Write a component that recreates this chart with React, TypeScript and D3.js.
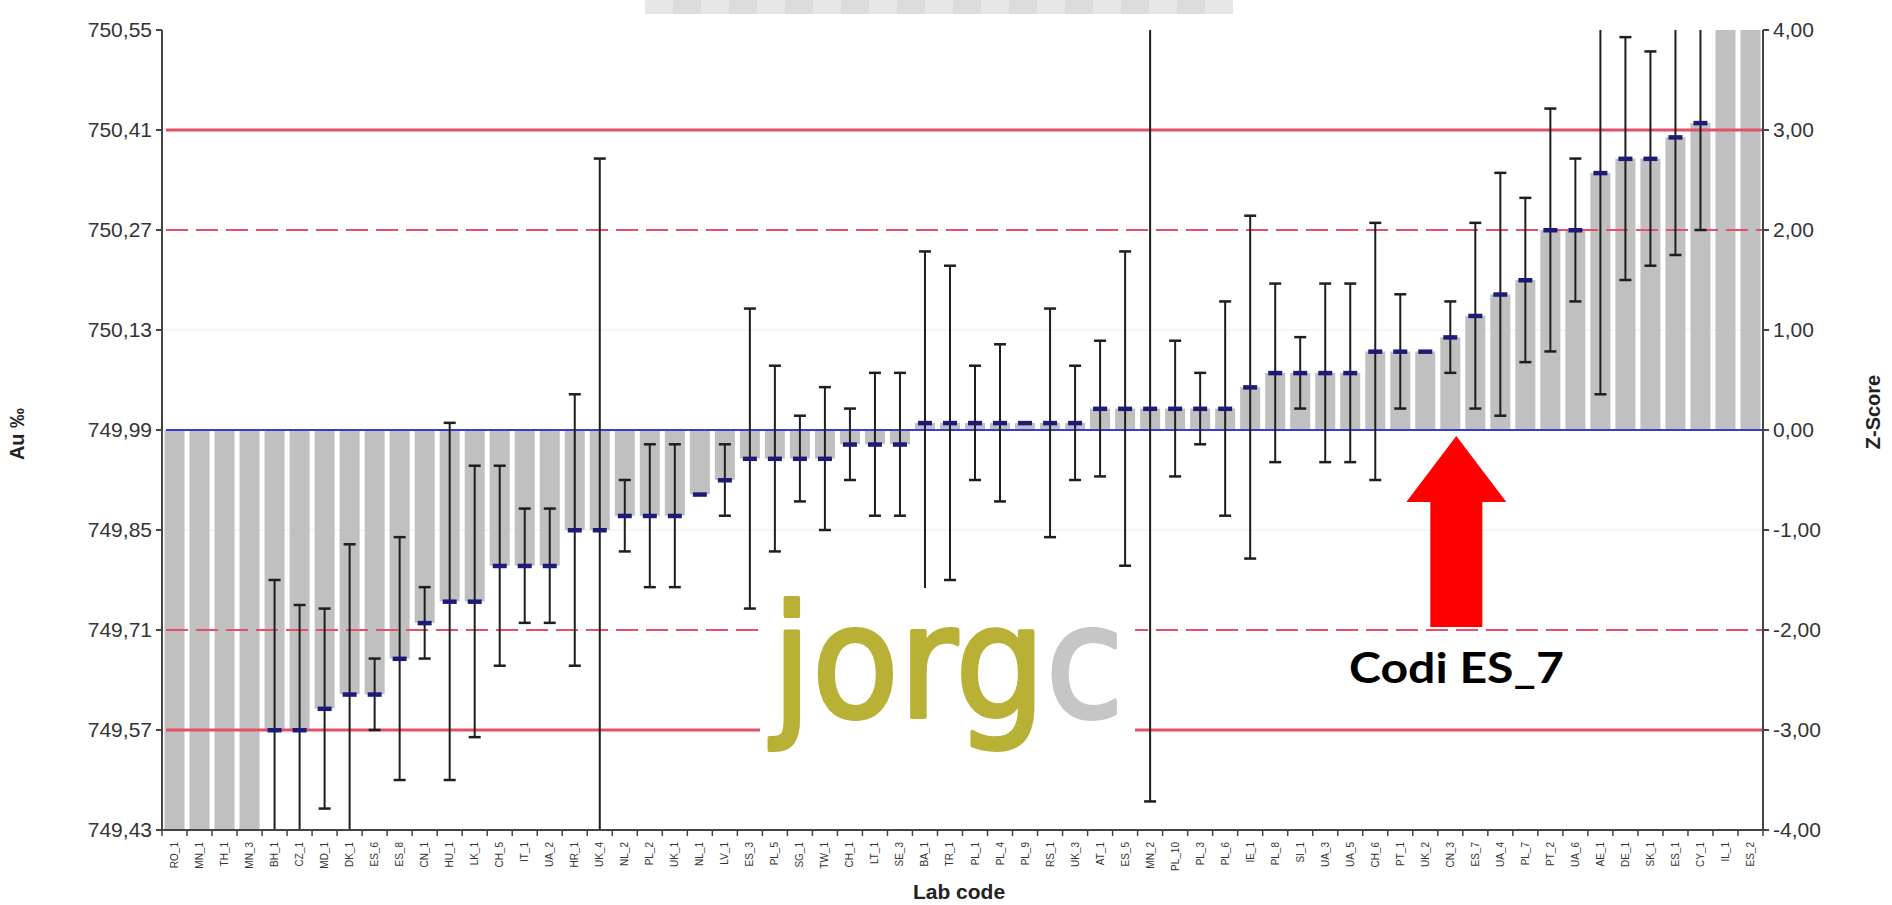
import React from "react";
import * as d3 from "d3";

// ---- data (Au ‰) ----
const labCodes = [
  "RO_1","MN_1","TH_1","MN_3","BH_1","CZ_1","MD_1","DK_1","ES_6","ES_8",
  "CN_1","HU_1","LK_1","CH_5","IT_1","UA_2","HR_1","UK_4","NL_2","PL_2",
  "UK_1","NL_1","LV_1","ES_3","PL_5","SG_1","TW_1","CH_1","LT_1","SE_3",
  "BA_1","TR_1","PL_1","PL_4","PL_9","RS_1","UK_3","AT_1","ES_5","MN_2",
  "PL_10","PL_3","PL_6","IE_1","PL_8","SI_1","UA_3","UA_5","CH_6","PT_1",
  "UK_2","CN_3","ES_7","UA_4","PL_7","PT_2","UA_6","AE_1","DE_1","SK_1",
  "ES_1","CY_1","IL_1","ES_2",
];
const means = [
  749.30,749.32,749.36,749.40,749.57,749.57,749.60,749.62,749.62,749.67,
  749.72,749.75,749.75,749.80,749.80,749.80,749.85,749.85,749.87,749.87,
  749.87,749.90,749.92,749.95,749.95,749.95,749.95,749.97,749.97,749.97,
  750.00,750.00,750.00,750.00,750.00,750.00,750.00,750.02,750.02,750.02,
  750.02,750.02,750.02,750.05,750.07,750.07,750.07,750.07,750.10,750.10,
  750.10,750.12,750.15,750.18,750.20,750.27,750.27,750.35,750.37,750.37,
  750.40,750.42,750.60,750.62,
];
const uncert = [
  0,0,0,0,0.21,0.175,0.14,0.21,0.05,0.17,
  0.05,0.25,0.19,0.14,0.08,0.08,0.19,0.52,0.05,0.10,
  0.10,0,0.05,0.21,0.13,0.06,0.10,0.05,0.10,0.10,
  0.24,0.22,0.08,0.11,0,0.16,0.08,0.095,0.22,0.55,
  0.095,0.05,0.15,0.24,0.125,0.05,0.125,0.125,0.18,0.08,
  0,0.05,0.13,0.17,0.115,0.17,0.10,0.31,0.17,0.15,
  0.165,0.15,0,0,
];
const leftTicks = [749.43,749.57,749.71,749.85,749.99,750.13,750.27,750.41,750.55];
const rightTicks = [-4,-3,-2,-1,0,1,2,3,4];
const assignedValue = 749.99;
const solidLimits = [-3, 3];
const dashedLimits = [-2, 2];
const highlightLab = "ES_7";

const W = 1892, H = 905;
const L = 162, R = 1763, T = 30, B = 830;
const FONT = "'Liberation Sans', Arial, sans-serif";

export default function App() {
  const x = d3.scaleBand<string>().domain(labCodes).range([L, R]).paddingInner(0.2).paddingOuter(0.1);
  const y = d3.scaleLinear().domain([749.43, 750.55]).range([B, T]);
  const z = d3.scaleLinear().domain([-4, 4]).range([B, T]);
  const fmt = (v: number, d: number) => v.toFixed(d).replace(".", ",");
  const step = x.step();
  const y0 = y(assignedValue);
  const cap = 6;

  const hx = (x(highlightLab) as number) + x.bandwidth() / 2 - 19;
  const arrowTip = y0 + 6;
  const arrow = d3.line()([
    [hx, arrowTip], [hx + 50, arrowTip + 66], [hx + 26, arrowTip + 66], [hx + 26, arrowTip + 191],
    [hx - 26, arrowTip + 191], [hx - 26, arrowTip + 66], [hx - 50, arrowTip + 66],
  ]) + "Z";

  return (
    <div style={{ position: "absolute", left: 0, top: 0 }}>
      <svg width={W} height={H} style={{ display: "block", background: "#fff" }}>
        <defs>
          <clipPath id="plot"><rect x={L} y={T} width={R - L} height={B - T} /></clipPath>
        </defs>
        {/* faint top mosaic */}
        {d3.range(0, 562, 28).map((o, i) => (
          <rect key={"m" + i} x={645 + o} y={0} width={28} height={14}
            fill={i % 2 ? "#d8d8d8" : "#e4e4e4"} opacity={0.9} />
        ))}
        {/* grid */}
        {leftTicks.slice(1, -1).map((t) => (
          <line key={"g" + t} x1={L} x2={R} y1={y(t)} y2={y(t)} stroke="#ececec" strokeWidth={1} />
        ))}
        <g clipPath="url(#plot)">
          {labCodes.map((c, i) => {
            const v = means[i];
            const yv = y(v);
            return (
              <rect key={"b" + c} x={x(c)} width={x.bandwidth()}
                y={Math.min(yv, y0)} height={Math.abs(yv - y0)} fill="#c0c0c0" />
            );
          })}
          {/* reference lines */}
          <line x1={L + 4} x2={R} y1={y0} y2={y0} stroke="#3a3ad0" strokeWidth={2} />
          {solidLimits.map((s) => (
            <line key={"s" + s} x1={L + 4} x2={R} y1={z(s)} y2={z(s)} stroke="#e35068" strokeWidth={3} />
          ))}
          {dashedLimits.map((s) => (
            <line key={"d" + s} x1={L + 4} x2={R} y1={z(s)} y2={z(s)} stroke="#e35068" strokeWidth={2} strokeDasharray="22 8" />
          ))}
          {/* error bars */}
          {labCodes.map((c, i) => {
            const u = uncert[i];
            if (!u) return null;
            const cx = (x(c) as number) + x.bandwidth() / 2;
            const yt = y(means[i] + u), yb = y(means[i] - u);
            return (
              <g key={"e" + c} stroke="#1e1e1e">
                <line x1={cx} x2={cx} y1={yt} y2={yb} strokeWidth={2} />
                <line x1={cx - cap} x2={cx + cap} y1={yt} y2={yt} strokeWidth={2.5} />
                <line x1={cx - cap} x2={cx + cap} y1={yb} y2={yb} strokeWidth={2.5} />
              </g>
            );
          })}
          {/* mean markers */}
          {labCodes.map((c, i) => {
            const cx = (x(c) as number) + x.bandwidth() / 2;
            return (
              <rect key={"p" + c} x={cx - 7} y={y(means[i]) - 2} width={14} height={4.5} fill="#1c1c78" />
            );
          })}
        </g>
        {/* watermark */}
        <rect x={760} y={588} width={375} height={240} fill="#fff" />
        <text x={772} y={717} fontFamily="'DejaVu Sans', sans-serif" fontSize={156}
          textLength={352} lengthAdjust="spacingAndGlyphs" strokeWidth={4} strokeLinejoin="round">
          <tspan fill="#b9b136" stroke="#b9b136">jorg</tspan><tspan fill="#c6c6c6" stroke="#c6c6c6">c</tspan>
        </text>
        {/* arrow + annotation */}
        <path d={arrow} fill="#ff0000" />
        <text x={1349} y={683} fontFamily="Lato, 'Liberation Sans', sans-serif" fontWeight="bold"
          fontSize={42} textLength={215} lengthAdjust="spacingAndGlyphs" fill="#000">Codi ES_7</text>
        {/* axes */}
        <g stroke="#444" strokeWidth={2} fill="none">
          <line x1={L} x2={L} y1={T} y2={B} />
          <line x1={R} x2={R} y1={T} y2={B} />
          <line x1={L} x2={R} y1={B} y2={B} />
          {leftTicks.map((t) => <line key={"lt" + t} x1={L - 6} x2={L} y1={y(t)} y2={y(t)} />)}
          {rightTicks.map((t) => <line key={"rt" + t} x1={R} x2={R + 6} y1={z(t)} y2={z(t)} />)}
          {d3.range(labCodes.length + 1).map((i) => (
            <line key={"xt" + i} x1={L + i * step} x2={L + i * step} y1={B} y2={B + 6} strokeWidth={1.5} />
          ))}
        </g>
        {leftTicks.map((t) => (
          <text key={"ll" + t} x={L - 10} y={y(t)} dy="0.35em" textAnchor="end" fontFamily={FONT}
            fontSize={21} fill="#333">{fmt(t, 2)}</text>
        ))}
        {rightTicks.map((t) => (
          <text key={"rl" + t} x={R + 10} y={z(t)} dy="0.35em" textAnchor="start" fontFamily={FONT}
            fontSize={21} fill="#333">{fmt(t, 2)}</text>
        ))}
        {labCodes.map((c) => {
          const cx = (x(c) as number) + x.bandwidth() / 2;
          return (
            <text key={"xl" + c} transform={`translate(${cx + 3.5},${B + 12}) rotate(-90)`} textAnchor="end"
              fontFamily={FONT} fontSize={10} fill="#333">{c}</text>
          );
        })}
        <text x={959} y={899} textAnchor="middle" fontFamily={FONT} fontWeight="bold" fontSize={21} fill="#222">Lab code</text>
        <text transform={`translate(24,434) rotate(-90)`} textAnchor="middle" fontFamily={FONT}
          fontWeight="bold" fontSize={20} fill="#222">Au ‰</text>
        <text transform={`translate(1880,412) rotate(-90)`} textAnchor="middle" fontFamily={FONT}
          fontWeight="bold" fontSize={20} fill="#222">Z-Score</text>
      </svg>
    </div>
  );
}
